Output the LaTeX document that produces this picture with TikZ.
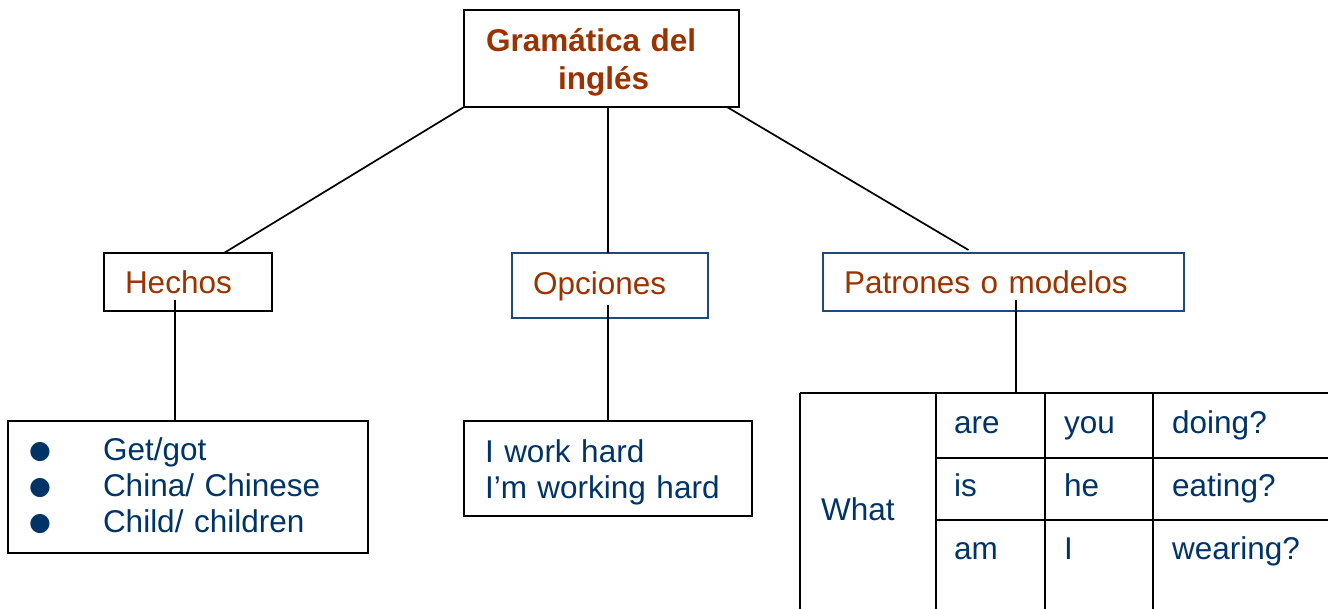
\documentclass[tikz,border=0pt]{standalone}
\usepackage{fontspec}
\setmainfont{Liberation Sans}
\newfontfamily\simbolos{DejaVu Sans}

\definecolor{ladrillo}{RGB}{153,51,0}
\definecolor{marino}{RGB}{0,51,102}
\definecolor{borde}{RGB}{31,73,125}

\tikzset{
	caja/.style={draw, line width=2pt, outer sep=0pt, inner xsep=21pt, anchor=north west, align=left, font=\fontsize{31.5}{36}\selectfont},
	tema/.style={caja, text=ladrillo},
	ejemplo/.style={caja, text=marino},
	celda/.style={anchor=base west, inner sep=0pt, text=marino, font=\fontsize{31.5}{36}\selectfont},
	rama/.style={line width=1.7pt},
	rejilla/.style={line width=1.5pt}
}

\newcommand{\punto}{\makebox[74pt][l]{\raisebox{2pt}{\simbolos\fontsize{25}{36}\selectfont ●}}}

\begin{document}
\begin{tikzpicture}[x=1pt, y=-1pt]

				\useasboundingbox (0,0) rectangle (1328,609);
				\clip (0,0) rectangle (1328,609);

				\node [tema, inner xsep=22pt, text width=231pt, minimum height=97pt, text depth=37.5pt, font=\fontsize{31.5}{38}\selectfont\bfseries] (titulo) at (464,10) {Gramática del\\\hspace*{72pt}inglés};

				\node [tema, text width=126pt, minimum height=58pt] (hechos) at (104,253) {Hechos};
				\node [tema, draw=borde, text width=154pt, minimum height=65pt, text depth=4pt] (opciones) at (512,253) {Opciones};
				\node [tema, draw=borde, text width=319pt, minimum height=58pt] (patrones) at (823,253) {Patrones o modelos};

				\node [ejemplo, text width=318pt, minimum height=132pt, text depth=76.5pt] (lista) at (8,421) {\punto Get/got\\\punto China/ Chinese\\\punto Child/ children};
				\node [ejemplo, text width=246pt, minimum height=95pt, text depth=34.5pt] (frases) at (464,421) {I work hard\\I’m working hard};

				% tabla
				\coordinate (tabla) at (800,393);
				\draw [rejilla] (tabla) -- (1340,393);
				\draw [rejilla] (tabla) -- (800,620);
				\draw [rejilla] (936,393) -- (936,620);
				\draw [rejilla] (1045,393) -- (1045,620);
				\draw [rejilla] (1153,393) -- (1153,620);
				\draw [rejilla] (936,458) -- (1340,458);
				\draw [rejilla] (936,520) -- (1340,520);

				\node [celda] (what) at (821,520) {What};
				\node [celda] (are) at (954,433) {are};
				\node [celda] (is) at (954,496) {is};
				\node [celda] (am) at (954,559) {am};
				\node [celda] (you) at (1064,433) {you};
				\node [celda] (he) at (1064,496) {he};
				\node [celda] (yo) at (1064,559) {I};
				\node [celda] (doing) at (1172,433) {doing?};
				\node [celda] (eating) at (1172,496) {eating?};
				\node [celda] (wearing) at (1172,559) {wearing?};

				\draw [rama] (titulo.south west) -- ([xshift=36pt]hechos.north);
				\draw [rama] (titulo.south -| frases.north) -- (opciones.north -| frases.north);
				\draw [rama] ([xshift=-12pt]titulo.south east) -- ([xshift=-35pt,yshift=3pt]patrones.north);

				\draw [rama] ([xshift=-13pt,yshift=11pt]hechos.south) -- ([xshift=-13pt]lista.north);
				\draw [rama] ([yshift=13pt]opciones.south -| frases.north) -- (frases.north);
				\draw [rama] ([xshift=12.5pt,yshift=11pt]patrones.south) -- ([xshift=12.5pt]patrones.south |- tabla);
		\end{tikzpicture}
\end{document}
